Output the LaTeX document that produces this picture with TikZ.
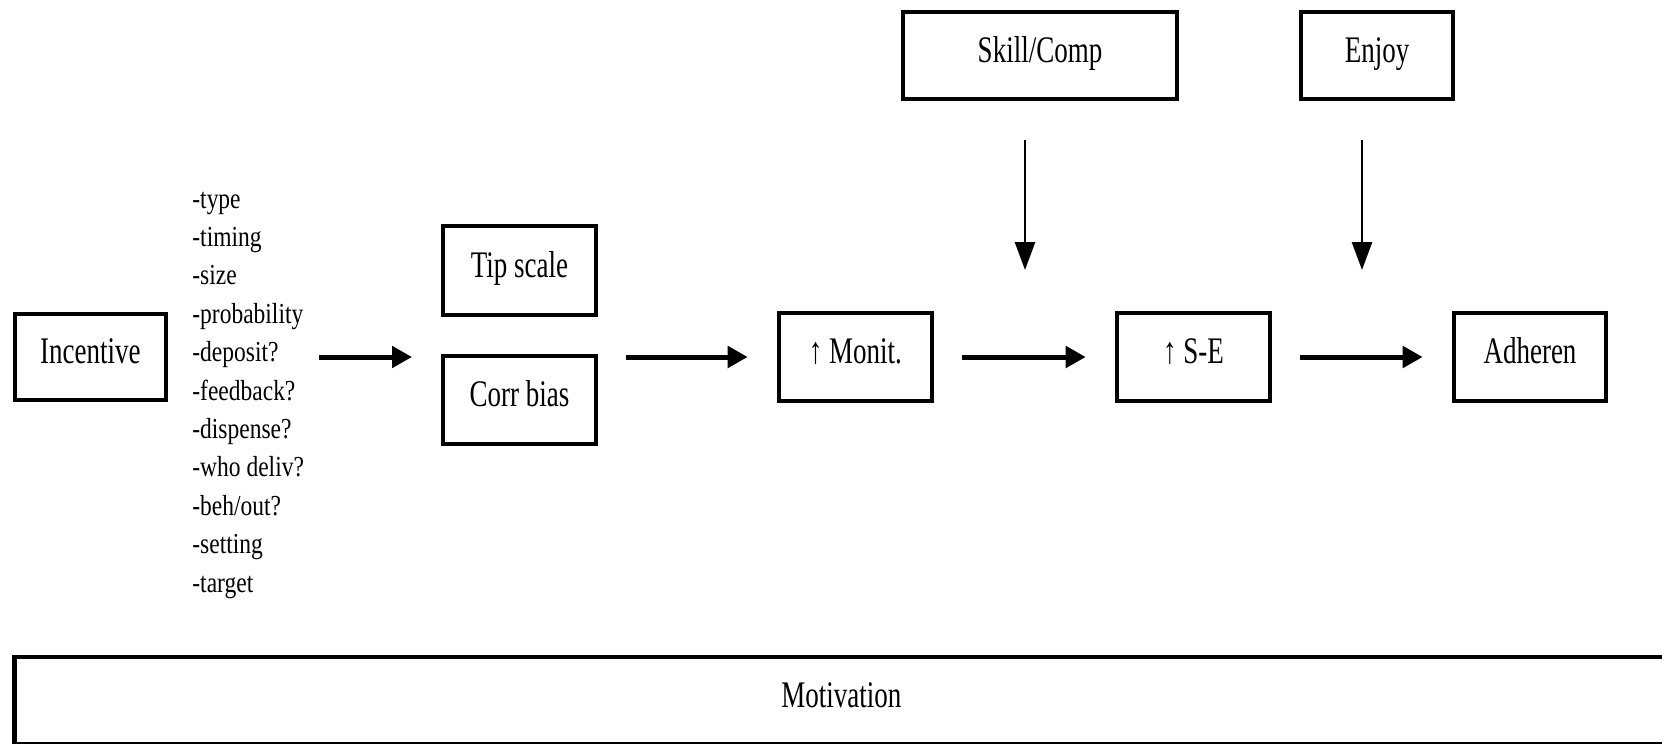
\documentclass[tikz,border=0pt]{standalone}
\usepackage{fontspec}
\setmainfont{Liberation Serif}
\newfontfamily\boxfont[FakeStretch=0.72]{Liberation Serif}
\newfontfamily\listfont[FakeStretch=0.81]{Liberation Serif}
\usetikzlibrary{arrows.meta}
\begin{document}
\begin{tikzpicture}[x=0.5pt,y=-0.5pt,
  bx/.style={draw, line width=2.3pt, inner sep=0pt,
    font=\boxfont\fontsize{18.75}{22}\selectfont,
    text height=0.66em, text depth=0pt},
  harr/.style={line width=2.5pt, -{Triangle[length=10pt,width=10.5pt]}},
  varr/.style={line width=1.4pt, -{Triangle[length=14pt,width=10pt]}},
  lst/.style={anchor=base west, inner sep=0pt,
    font=\listfont\fontsize{14.5}{19}\selectfont}]
\useasboundingbox (0,0) rectangle (1662,744);

% boxes
\node[bx, minimum width=75.6pt, minimum height=43pt] (inc) at (90.4,357) {Incentive};
\node[bx, minimum width=76.5pt, minimum height=44.5pt] (tip) at (519.5,270.5) {Tip scale};
\node[bx, minimum width=76.5pt, minimum height=44pt] (corr) at (519.5,400) {Corr bias};
\node[bx, minimum width=76.5pt, minimum height=44pt] (mon) at (855.5,357) {↑ Monit.};
\node[bx, minimum width=76.5pt, minimum height=44pt] (se) at (1193.5,357) {↑ S-E};
\node[bx, minimum width=76pt, minimum height=44pt] (adh) at (1530,357) {Adheren};
\node[bx, minimum width=137pt, minimum height=43.5pt] (skill) at (1040,55.5) {Skill/Comp};
\node[bx, minimum width=76pt, minimum height=43.5pt] (enjoy) at (1377,55.5) {Enjoy};
\node[bx, minimum width=826.6pt, minimum height=43.5pt] (mot) at (841.3,700.5) {Motivation};

% list of incentive features
\foreach \t [count=\i from 0] in {-type,-timing,-size,-probability,-deposit?,-feedback?,-dispense?,-who deliv?,-beh/out?,-setting,-target}
  \node[lst] (l\i) at (192,{208+38.4*\i}) {\t};

% horizontal arrows
\coordinate (a1s) at (319,357);
\coordinate (a1e) at (412,357);
\draw[harr] (a1s) -- (a1e);
\draw[harr, shorten <=14pt, shorten >=14.5pt] (corr.east |- mon.west) -- (mon.west);
\draw[harr, shorten <=14pt, shorten >=14.5pt] (mon.east) -- (se.west);
\draw[harr, shorten <=14pt, shorten >=14.5pt] (se.east) -- (adh.west);

% vertical arrows
\coordinate (v1e) at (1025,270);
\coordinate (v2e) at (1362,270);
\draw[varr, shorten <=19.5pt] (skill.south -| v1e) -- (v1e);
\draw[varr, shorten <=19.5pt] (enjoy.south -| v2e) -- (v2e);
\end{tikzpicture}
\end{document}
